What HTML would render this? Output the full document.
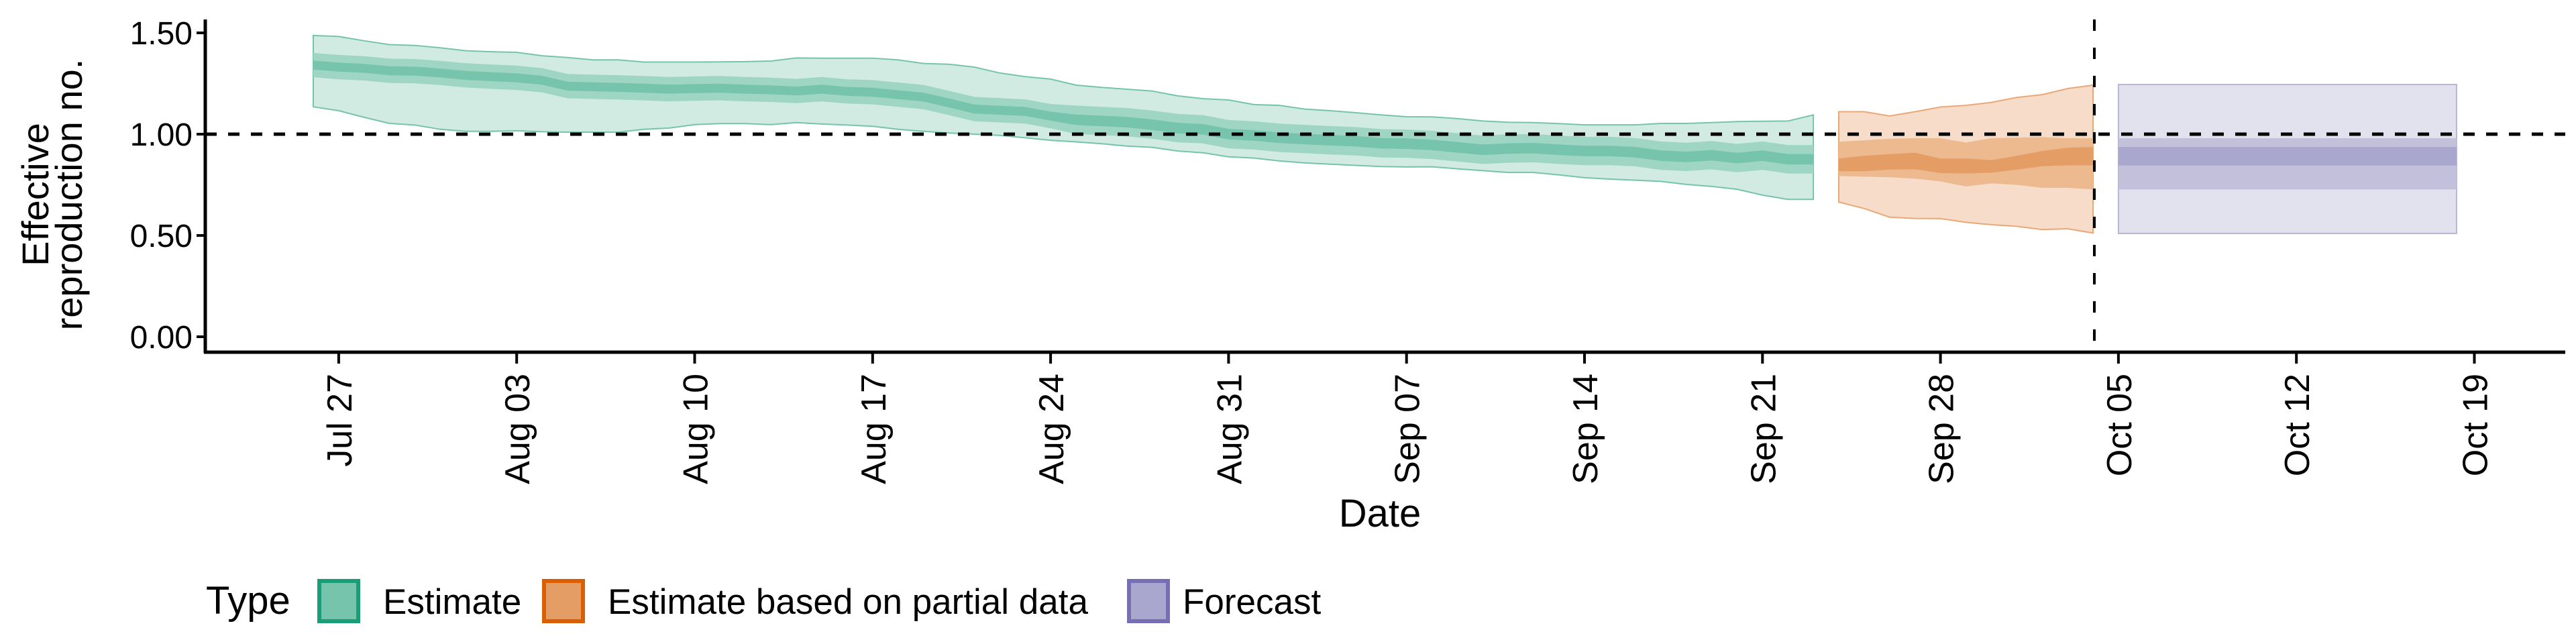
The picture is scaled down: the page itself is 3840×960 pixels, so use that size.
<!DOCTYPE html>
<html><head><meta charset="utf-8"><style>
html,body{margin:0;padding:0;background:#fff;}
svg{display:block;font-family:"Liberation Sans",sans-serif;}
</style></head><body>
<svg id="chart" width="3840" height="960" viewBox="0 0 3840 960" xmlns="http://www.w3.org/2000/svg">
<g id="plot"></g>
<g id="axes"></g>
<g id="legend"></g>
</svg>
<script>
// ---- data (day index 0 = Jul 26) ----
const tickLabels = ["Jul 27","Aug 03","Aug 10","Aug 17","Aug 24","Aug 31","Sep 07","Sep 14","Sep 21","Sep 28","Oct 05","Oct 12","Oct 19"];
const tickDays = [1,8,15,22,29,36,43,50,57,64,71,78,85];
const yTicks = [0,0.5,1,1.5];
const yTickLabels = ["0.00","0.50","1.00","1.50"];
const estStart = 0;
const estLo90 = [1.135,1.116,1.083,1.053,1.045,1.024,1.014,1.014,1.017,1.012,1.010,1.010,1.010,1.024,1.030,1.047,1.052,1.052,1.047,1.057,1.050,1.045,1.039,1.024,1.014,1.006,1.000,0.994,0.982,0.970,0.962,0.953,0.941,0.935,0.917,0.908,0.888,0.882,0.868,0.858,0.852,0.846,0.840,0.838,0.839,0.829,0.820,0.811,0.811,0.799,0.785,0.778,0.773,0.767,0.752,0.742,0.728,0.699,0.678,0.678];
const estHi90 = [1.487,1.482,1.461,1.442,1.438,1.426,1.412,1.407,1.404,1.387,1.378,1.367,1.367,1.356,1.356,1.356,1.357,1.358,1.361,1.376,1.375,1.375,1.375,1.367,1.349,1.345,1.331,1.302,1.284,1.272,1.242,1.231,1.222,1.213,1.189,1.175,1.169,1.146,1.142,1.124,1.116,1.106,1.095,1.086,1.085,1.077,1.065,1.059,1.057,1.052,1.046,1.046,1.046,1.053,1.053,1.057,1.062,1.064,1.065,1.095];
const estHi50 = [1.401,1.391,1.385,1.373,1.371,1.362,1.350,1.344,1.338,1.326,1.297,1.294,1.291,1.287,1.282,1.285,1.287,1.282,1.279,1.273,1.282,1.271,1.267,1.255,1.243,1.214,1.184,1.178,1.172,1.149,1.141,1.135,1.129,1.117,1.100,1.094,1.070,1.064,1.052,1.046,1.040,1.035,1.025,1.023,1.017,1.005,0.993,0.999,1.001,0.993,0.987,0.987,0.981,0.964,0.958,0.966,0.952,0.964,0.946,0.946];
const estLo50 = [1.281,1.271,1.265,1.253,1.251,1.242,1.230,1.224,1.218,1.206,1.177,1.174,1.171,1.167,1.162,1.165,1.167,1.162,1.159,1.153,1.162,1.151,1.147,1.135,1.123,1.094,1.064,1.058,1.052,1.029,1.001,0.995,0.989,0.977,0.960,0.954,0.930,0.924,0.912,0.906,0.900,0.895,0.885,0.883,0.877,0.865,0.853,0.859,0.861,0.853,0.847,0.847,0.841,0.824,0.818,0.826,0.812,0.824,0.806,0.806];
const estHi20 = [1.363,1.353,1.347,1.335,1.333,1.324,1.312,1.306,1.300,1.288,1.259,1.256,1.253,1.249,1.244,1.247,1.249,1.244,1.241,1.235,1.244,1.233,1.229,1.217,1.205,1.176,1.146,1.140,1.134,1.111,1.097,1.091,1.085,1.073,1.056,1.050,1.026,1.020,1.008,1.002,0.996,0.991,0.981,0.979,0.973,0.961,0.949,0.955,0.957,0.949,0.943,0.943,0.937,0.920,0.914,0.922,0.908,0.920,0.902,0.902];
const estLo20 = [1.319,1.309,1.303,1.291,1.289,1.280,1.268,1.262,1.256,1.244,1.215,1.212,1.209,1.205,1.200,1.203,1.205,1.200,1.197,1.191,1.200,1.189,1.185,1.173,1.161,1.132,1.102,1.096,1.090,1.067,1.045,1.039,1.033,1.021,1.004,0.998,0.974,0.968,0.956,0.950,0.944,0.939,0.929,0.927,0.921,0.909,0.897,0.903,0.905,0.897,0.891,0.891,0.885,0.868,0.862,0.870,0.856,0.868,0.850,0.850];
const partStart = 60;
const partHi90 = [1.111,1.111,1.090,1.111,1.134,1.142,1.157,1.181,1.195,1.225,1.242];
const partLo90 = [0.665,0.633,0.590,0.584,0.583,0.565,0.553,0.545,0.529,0.533,0.512];
const partHi50 = [0.963,0.970,0.977,0.980,0.980,0.959,0.980,0.983,0.985,0.980,0.980];
const partLo50 = [0.794,0.790,0.787,0.780,0.767,0.742,0.757,0.750,0.735,0.735,0.727];
const partHi20 = [0.880,0.893,0.902,0.908,0.880,0.880,0.872,0.893,0.917,0.933,0.937];
const partLo20 = [0.817,0.817,0.825,0.827,0.808,0.806,0.810,0.825,0.842,0.846,0.846];
const fcStart = 71, fcEnd = 84;
const fcBands = [[0.51,1.245],[0.727,0.98],[0.845,0.937]];
const forecastDay = 70;
// ---- scales ----
const X0 = 467, DAY = 37.9;
const x = d => X0 + d*DAY;
const y = v => 502 - v*302;
const NS = "http://www.w3.org/2000/svg";
function mk(tag, attrs, parent){const e=document.createElementNS(NS,tag);for(const k in attrs)e.setAttribute(k,attrs[k]);parent.appendChild(e);return e;}
const plot=document.getElementById('plot'), axes=document.getElementById('axes'), legend=document.getElementById('legend');
function ribbon(start, lo, hi, fill, stroke, name){
  let p='';
  for(let i=0;i<hi.length;i++) p+=(i?'L':'M')+x(start+i).toFixed(1)+','+y(hi[i]).toFixed(1);
  for(let i=lo.length-1;i>=0;i--) p+='L'+x(start+i).toFixed(1)+','+y(lo[i]).toFixed(1);
  p+='Z';
  const e=mk('path',{d:p,fill:fill,stroke:stroke||'none','stroke-width':stroke?2:0},plot);
  
  
}
ribbon(estStart, estLo90, estHi90, '#d1ebe2', '#76c4ab', 'estimate-90-band');
ribbon(estStart, estLo50, estHi50, '#9ed5c3', null, 'estimate-50-band');
ribbon(estStart, estLo20, estHi20, '#76c4ab', null, 'estimate-20-band');
ribbon(partStart, partLo90, partHi90, '#f6dcc9', '#e9a878', 'partial-90-band');
ribbon(partStart, partLo50, partHi50, '#edb98f', null, 'partial-50-band');
ribbon(partStart, partLo20, partHi20, '#e59d66', null, 'partial-20-band');
const fcFills=['#e2e2ee','#c3c0dc','#aaa7ce'];
fcBands.forEach((b,i)=>{
  const r=mk('rect',{x:x(fcStart),y:y(b[1]),width:x(fcEnd+0.3)-x(fcStart),height:y(b[0])-y(b[1]),fill:fcFills[i],stroke:i==0?'#b8b5d6':'none','stroke-width':i==0?2:0},plot);
  
  
});
// reference lines
const hl=mk('line',{x1:306,x2:3824,y1:y(1),y2:y(1),stroke:'#000','stroke-width':5,'stroke-dasharray':'17 17'},plot);


const vl=mk('line',{x1:x(forecastDay)+2,x2:x(forecastDay)+2,y1:29,y2:525,stroke:'#000','stroke-width':4,'stroke-dasharray':'17 25'},plot);


// axes
const ya=mk('line',{x1:306,x2:306,y1:29,y2:526,stroke:'#000','stroke-width':5},axes);


const xa=mk('line',{x1:304,x2:3824,y1:525,y2:525,stroke:'#000','stroke-width':5},axes);


yTicks.forEach((v,i)=>{
  mk('line',{x1:293,x2:306,y1:y(v),y2:y(v),stroke:'#000','stroke-width':4},axes);
  const t=mk('text',{x:287,y:y(v)+17,'text-anchor':'end','font-size':48,fill:'#000'},axes);
  t.textContent=yTickLabels[i];
  
  
});
tickDays.forEach((d,i)=>{
  const tx=x(d);
  mk('line',{x1:tx,x2:tx,y1:525,y2:542,stroke:'#000','stroke-width':4},axes);
  const t=mk('text',{x:0,y:0,'text-anchor':'end','font-size':52,fill:'#000',transform:'translate('+(tx+19)+',557) rotate(-90)'},axes);
  t.textContent=tickLabels[i];
  
  
});
const xt=mk('text',{x:2057,y:785,'text-anchor':'middle','font-size':58,fill:'#000'},axes);
xt.textContent='Date';


const yt=mk('text',{x:0,y:0,'text-anchor':'middle','font-size':56,fill:'#000',transform:'translate(72,290) rotate(-90)'},axes);


const s1=mk('tspan',{x:0,dy:0},yt); s1.textContent='Effective';
const s2=mk('tspan',{x:0,dy:50},yt); s2.textContent='reproduction no.';
// legend
const lt=mk('text',{x:307,y:915,'font-size':58,fill:'#000'},legend);
lt.textContent='Type';


const entries=[['Estimate','#76c4ab','#1b9e77',473,571],['Estimate based on partial data','#e59d66','#d95f02',808,906],['Forecast','#aaa7ce','#7570b3',1680,1763]];
entries.forEach(e=>{
  const r=mk('rect',{x:e[3]+3,y:866,width:58,height:60,fill:e[1],stroke:e[2],'stroke-width':6},legend);
  
  
  const t=mk('text',{x:e[4],y:915,'font-size':53,fill:'#000'},legend);
  t.textContent=e[0];
  
  
});
</script>
</body></html>
